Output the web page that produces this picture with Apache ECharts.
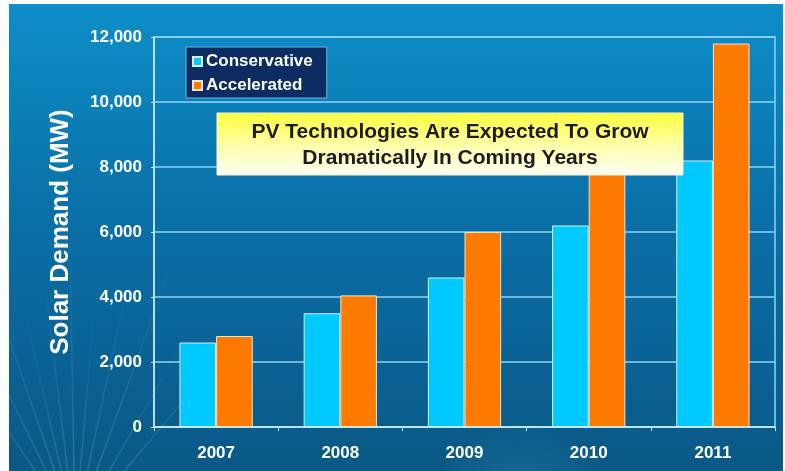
<!DOCTYPE html>
<html>
<head>
<meta charset="utf-8">
<script src="https://cdn.jsdelivr.net/npm/echarts@6/dist/echarts.min.js"></script>
<style>
html,body{margin:0;padding:0;background:#ffffff;}
#chart{width:785px;height:471px;}
</style>
</head>
<body>
<div id="chart"></div>
<script>
const categories = ['2007', '2008', '2009', '2010', '2011'];
const conservative = [2600, 3500, 4600, 6200, 8200];
const accelerated = [2800, 4050, 6000, 8500, 11800];
const yTicks = [0, 2000, 4000, 6000, 8000, 10000, 12000];
const seriesNames = ['Conservative', 'Accelerated'];
const calloutLines = ['PV Technologies Are Expected To Grow', 'Dramatically In Coming Years'];
const yTitle = 'Solar Demand (MW)';

const chart = echarts.init(document.getElementById('chart'), null, {renderer: 'canvas'});
const font = '"Liberation Sans", Arial, sans-serif';

// faint sunburst rays lower left
const rays = [];
const fx = 75, fy = 530;
const angles = [-124, -116, -109, -103, -97, -91, -85, -78, -70, -60, -50];
angles.forEach(function (a, i) {
  const r = 220 + (i % 3) * 35;
  const rad = a * Math.PI / 180;
  rays.push({
    type: 'line', z: -9, silent: true,
    shape: {x1: fx, y1: fy, x2: fx + r * Math.cos(rad), y2: fy + r * Math.sin(rad)},
    style: {
      stroke: {type: 'linear', x: 0, y: 1, x2: 0, y2: 0, colorStops: [
        {offset: 0, color: 'rgba(200,235,255,0.22)'}, {offset: 1, color: 'rgba(200,235,255,0)'}]},
      lineWidth: 1.5
    }
  });
});

chart.setOption({
  backgroundColor: '#ffffff',
  animation: false,
  graphic: [
    {
      type: 'rect', z: -10, silent: true,
      shape: {x: 9, y: 4, width: 774, height: 467},
      style: {fill: {type: 'linear', x: 0, y: 0, x2: 0, y2: 1, colorStops: [
        {offset: 0, color: '#0d8ec8'}, {offset: 0.45, color: '#0a70a8'}, {offset: 1, color: '#0a5886'}]}}
    },
    {
      type: 'circle', z: -9, silent: true,
      shape: {cx: 520, cy: 520, r: 95},
      style: {fill: {type: 'radial', x: 0.5, y: 0.5, r: 0.5, colorStops: [
        {offset: 0, color: 'rgba(120,190,230,0.22)'}, {offset: 1, color: 'rgba(120,190,230,0)'}]}}
    }
  ].concat(rays).concat([
    {
      type: 'rect', z: 100, zlevel: 0,
      shape: {x: 217, y: 113, width: 466, height: 62},
      style: {
        fill: {type: 'linear', x: 0, y: 0, x2: 0, y2: 1, colorStops: [
          {offset: 0, color: '#ffff3c'}, {offset: 0.55, color: '#ffffb0'}, {offset: 1, color: '#fffff4'}]},
        stroke: '#f4f4d8', lineWidth: 1
      }
    },
    {
      type: 'text', z: 101, x: 450, y: 132,
      style: {text: calloutLines[0], font: 'bold 21px ' + font, fill: '#1c1c1c', align: 'center', verticalAlign: 'middle'}
    },
    {
      type: 'text', z: 101, x: 450, y: 158,
      style: {text: calloutLines[1], font: 'bold 21px ' + font, fill: '#1c1c1c', align: 'center', verticalAlign: 'middle'}
    }
  ]),
  legend: {
    data: seriesNames,
    orient: 'vertical',
    left: 186, top: 47,
    width: 137,
    backgroundColor: '#0c2c62',
    borderColor: '#6fb3df',
    borderWidth: 1,
    borderRadius: 0,
    padding: [6, 14, 4, 6],
    itemGap: 7,
    itemWidth: 9, itemHeight: 9,
    icon: 'rect',
    textStyle: {color: '#ffffff', fontFamily: font, fontWeight: 'bold', fontSize: 17, padding: [0, 0, 0, -1]},
    selectedMode: false
  },
  grid: {
    left: 154, right: 10, top: 37, bottom: 44,
    show: true, borderColor: '#8fd4f2', borderWidth: 1.5, backgroundColor: 'transparent'
  },
  xAxis: {
    type: 'category',
    data: categories,
    axisLine: {lineStyle: {color: '#cdeefc', width: 1.5}},
    axisTick: {show: true, length: 4, lineStyle: {color: '#cdeefc'}},
    axisLabel: {color: '#ffffff', fontFamily: font, fontWeight: 'bold', fontSize: 17, margin: 18},
    splitLine: {show: false}
  },
  yAxis: {
    type: 'value',
    min: 0, max: 12000, interval: 2000,
    name: yTitle,
    nameLocation: 'middle',
    nameGap: 80,
    nameTextStyle: {color: '#ffffff', fontFamily: font, fontWeight: 'bold', fontSize: 26},
    axisLine: {show: true, lineStyle: {color: '#cdeefc', width: 1.5}},
    axisTick: {show: true, length: 3, lineStyle: {color: '#cdeefc'}},
    axisLabel: {
      color: '#ffffff', fontFamily: font, fontWeight: 'bold', fontSize: 17, margin: 12,
      formatter: function (v) { return yTicks.indexOf(v) >= 0 ? v.toLocaleString('en-US') : ''; }
    },
    splitLine: {show: true, lineStyle: {color: '#8fd4f2', width: 1.5}}
  },
  series: [
    {
      name: seriesNames[0], type: 'bar', data: conservative,
      barGap: '0%', barCategoryGap: '41%',
      itemStyle: {color: '#00c9ff', borderColor: '#d8f0f8', borderWidth: 1}
    },
    {
      name: seriesNames[1], type: 'bar', data: accelerated,
      barGap: '0%', barCategoryGap: '41%',
      itemStyle: {color: '#ff7a00', borderColor: '#f4e4c8', borderWidth: 1}
    }
  ]
});
</script>
</body>
</html>
